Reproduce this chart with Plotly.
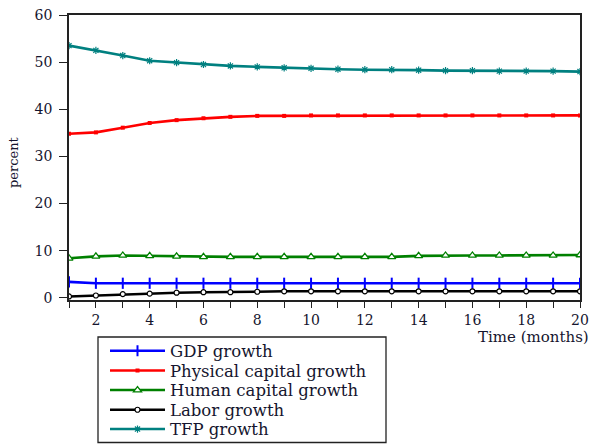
import plotly.graph_objects as go

# ---- data ----
months = list(range(1, 21))
gdp_growth = [3.4, 3.1, 3.1, 3.1, 3.1, 3.1, 3.1, 3.1, 3.1, 3.1,
              3.1, 3.1, 3.1, 3.1, 3.1, 3.1, 3.1, 3.1, 3.1, 3.1]
physical_capital_growth = [34.8, 35.1, 36.1, 37.1, 37.7, 38.1, 38.4, 38.6, 38.6, 38.7,
                           38.7, 38.7, 38.7, 38.7, 38.7, 38.7, 38.7, 38.7, 38.7, 38.7]
human_capital_growth = [8.4, 8.8, 9.0, 8.9, 8.8, 8.7, 8.7, 8.7, 8.7, 8.7,
                        8.7, 8.7, 8.7, 8.9, 9.0, 9.0, 9.0, 9.0, 9.0, 9.1]
labor_growth = [0.3, 0.5, 0.8, 0.9, 1.1, 1.2, 1.2, 1.3, 1.4, 1.4,
                1.4, 1.4, 1.4, 1.4, 1.4, 1.4, 1.4, 1.4, 1.4, 1.4]
tfp_growth = [53.5, 52.5, 51.4, 50.3, 49.9, 49.5, 49.2, 49.0, 48.8, 48.7,
              48.5, 48.4, 48.4, 48.3, 48.2, 48.2, 48.1, 48.1, 48.1, 48.0]

series_names = ["GDP growth", "Physical capital growth", "Human capital growth",
                "Labor growth", "TFP growth"]
series_values = [gdp_growth, physical_capital_growth, human_capital_growth,
                 labor_growth, tfp_growth]
y_ticks = [0, 10, 20, 30, 40, 50, 60]
x_ticks = [2, 4, 6, 8, 10, 12, 14, 16, 18, 20]

# ---- styles ----
colors = ["#0000FF", "#FF0000", "#008000", "#000000", "#008080"]
markers = [
    dict(symbol="line-ns", size=8, line=dict(color="#0000FF", width=2)),
    dict(symbol="square", size=4, color="#FF0000", line=dict(width=0)),
    dict(symbol="triangle-up", size=7, color="white", line=dict(color="#008000", width=1.3)),
    dict(symbol="circle", size=5, color="white", line=dict(color="#000000", width=1.2)),
    dict(symbol="asterisk-open", size=6, line=dict(color="#008080", width=1.2)),
]

W, H = 590, 444
L, R, T, B = 69, 10, 15, 144
PW, PH = W - L - R, H - T - B

def px_x(x):
    return (x - L) / PW

def px_y(y):
    return (H - B - y) / PH

text_color = "#15152e"
serif = "DejaVu Serif"

fig = go.Figure()
legend_ids = ["legend", "legend2", "legend3", "legend4", "legend5"]
for name, vals, col, mk, lg in zip(series_names, series_values, colors, markers, legend_ids):
    fig.add_trace(go.Scatter(
        x=months, y=vals, name=name, mode="lines+markers",
        line=dict(color=col, width=2.6), marker=mk, legend=lg,
    ))

legend_rows_px = [351, 370.7, 390.3, 410, 429.3]
legend_common = dict(
    xanchor="left", yanchor="middle", bgcolor="rgba(0,0,0,0)", borderwidth=0,
    font=dict(family=serif, size=16.5, color=text_color), itemwidth=55,
    itemclick=False, itemdoubleclick=False,
)
lay_legends = {}
for lg, ypx in zip(legend_ids, legend_rows_px):
    lay_legends[lg] = dict(legend_common, x=px_x(105), y=px_y(ypx))

fig.update_layout(
    width=W, height=H,
    margin=dict(l=L, r=R, t=T, b=B, autoexpand=False),
    paper_bgcolor="white", plot_bgcolor="white",
    showlegend=True,
    **lay_legends,
    xaxis=dict(
        range=[1, 20], tickvals=x_ticks, ticks="outside", ticklen=6, tickwidth=1.3,
        tickcolor="#222", showgrid=False, zeroline=False, showline=True,
        linecolor="#222", linewidth=1.5, mirror=True,
        tickfont=dict(family=serif, size=14, color=text_color),
        minor=dict(dtick=1, tick0=1, ticks="outside", ticklen=6, tickwidth=1.3, tickcolor="#222", showgrid=False),
    ),
    yaxis=dict(
        range=[-0.45, 60], tickvals=y_ticks, ticks="outside", ticklen=8, tickwidth=1.3,
        tickcolor="#222", showgrid=False, zeroline=False, showline=True,
        linecolor="#222", linewidth=1.5, mirror=True, ticklabelstandoff=4,
        tickfont=dict(family=serif, size=14, color=text_color),
    ),
    shapes=[dict(type="rect", xref="paper", yref="paper",
                 x0=px_x(98), x1=px_x(386), y0=px_y(442.5), y1=px_y(337),
                 line=dict(color="#222", width=1.3), fillcolor="rgba(0,0,0,0)")],
    annotations=[
        dict(text="Time (months)", xref="paper", yref="paper", x=px_x(591), y=px_y(337),
             xanchor="right", yanchor="middle", showarrow=False,
             font=dict(family=serif, size=15, color=text_color)),
        dict(text="percent", xref="paper", yref="paper", x=px_x(13), y=px_y(162),
             xanchor="center", yanchor="middle", textangle=-90, showarrow=False,
             font=dict(family=serif, size=13, color=text_color)),
    ],
)

fig.write_html("out.html")
